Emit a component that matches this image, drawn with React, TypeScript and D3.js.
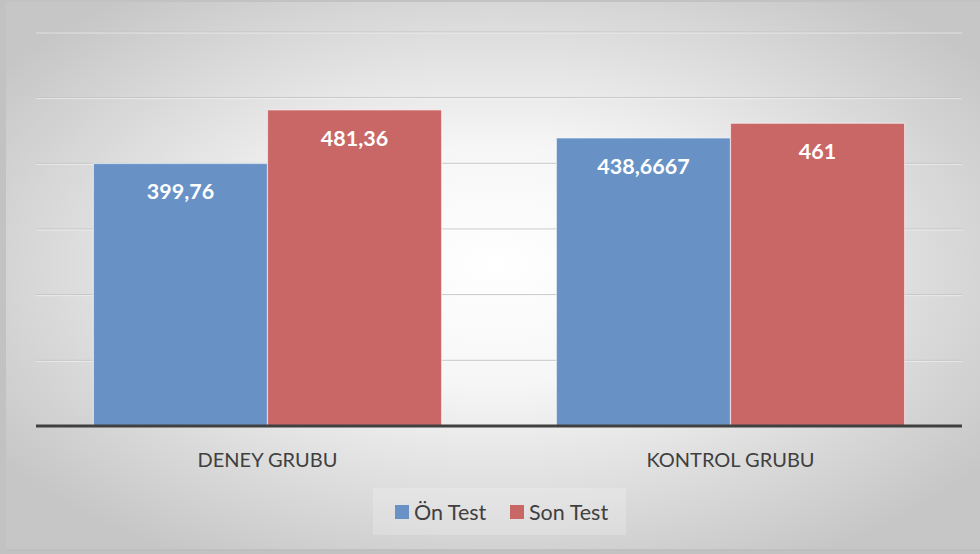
import React from "react";
import * as d3 from "d3";

const categories = ["DENEY GRUBU", "KONTROL GRUBU"];
const seriesNames = ["Ön Test", "Son Test"];
const onTest = [399.76, 438.6667];
const sonTest = [481.36, 461];
const valueLabels = [["399,76", "438,6667"], ["481,36", "461"]];
const yTicks = [0, 100, 200, 300, 400, 500, 600];
const colors = ["#6892C6", "#C96766"];

export default function App() {
  const W = 980, H = 554;
  const x0 = d3.scaleBand().domain(categories).range([36, 962]).paddingInner(0.248).paddingOuter(0.124);
  const x1 = d3.scaleBand().domain(seriesNames).range([0, x0.bandwidth()]);
  const y = d3.scaleLinear().domain([0, 600]).range([426, 32]);
  const series = [onTest, sonTest];
  const font = "Lato, 'Open Sans', sans-serif";
  return (
    <svg width={W} height={H} style={{ position: "absolute", left: 0, top: 0 }} fontFamily={font}>
      <defs>
        <radialGradient id="bg" cx="50%" cy="48%" r="62%">
          <stop offset="0%" stopColor="#ffffff" />
          <stop offset="35%" stopColor="#f6f6f6" />
          <stop offset="100%" stopColor="#c6c6c6" />
        </radialGradient>
      </defs>
      <rect x={0} y={0} width={W} height={H} fill="#c2c2c2" />
      <rect x={6} y={2} width={W} height={548} fill="url(#bg)" />
      <line x1={6} x2={W} y1={550} y2={550} stroke="#bdbdbd" strokeWidth={1.5} />
      {yTicks.filter(t => t > 0).map(t => (
        <g key={t}>
          <line x1={36} x2={962} y1={y(t)} y2={y(t)} stroke="#c4c4c4" strokeWidth={1} />
          <line x1={36} x2={962} y1={y(t) + 1} y2={y(t) + 1} stroke="#ffffff" strokeOpacity={0.5} strokeWidth={1} />
        </g>
      ))}
      {categories.map((c, ci) => (
        <g key={c} transform={`translate(${x0(c)},0)`}>
          {seriesNames.map((s, si) => {
            const v = series[si][ci];
            const bx = x1(s)!;
            return (
              <g key={s}>
                <rect x={bx} y={y(v)} width={x1.bandwidth()} height={y(0) - y(v)} fill={colors[si]}
                  stroke="#ffffff" strokeOpacity={0.55} strokeWidth={1.2} />
                <text x={bx + x1.bandwidth() / 2} y={y(v) + 36} textAnchor="middle" fill="#ffffff"
                  fontWeight="bold" fontSize={21.5}>{valueLabels[si][ci]}</text>
              </g>
            );
          })}
          <text x={x0.bandwidth() / 2} y={467} textAnchor="middle" fill="#404040" fontSize={20}>{c}</text>
        </g>
      ))}
      <line x1={36} x2={962} y1={y(0)} y2={y(0)} stroke="#404040" strokeWidth={3} />
      <rect x={373} y={488} width={253} height={47} fill="#ffffff" fillOpacity={0.2} />
      {seriesNames.map((s, i) => {
        const lx = [395, 510][i];
        return (
          <g key={s}>
            <rect x={lx} y={505} width={14} height={14} fill={colors[i]} />
            <text x={lx + 19} y={519.5} fill="#404040" fontSize={21.5}>{s}</text>
          </g>
        );
      })}
    </svg>
  );
}
